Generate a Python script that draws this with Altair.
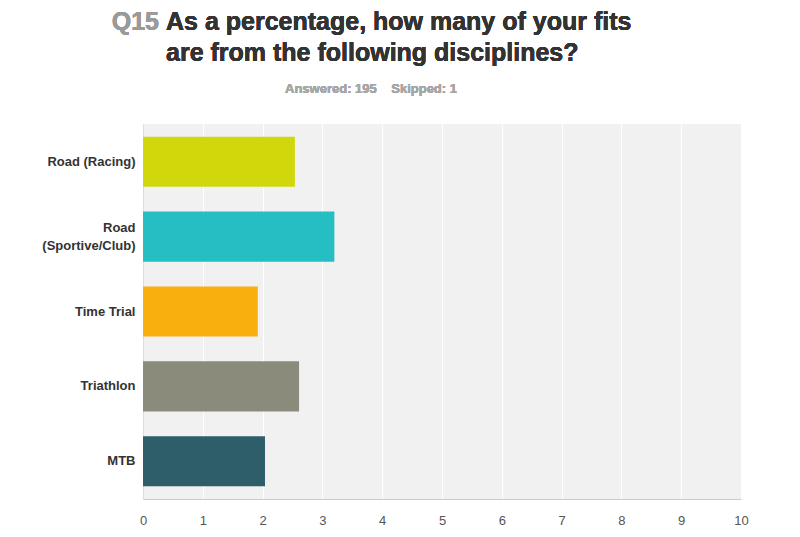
import altair as alt
import pandas as pd

categories = ["Road (Racing)", "Road (Sportive/Club)", "Time Trial", "Triathlon", "MTB"]
values = [2.54, 3.20, 1.92, 2.61, 2.04]
colors = ["#d0d80c", "#25bec3", "#f7b00e", "#8a8b7b", "#2d5e6a"]
x_ticks = list(range(0, 11))

df = pd.DataFrame({"discipline": categories, "value": values})

FONT = "Liberation Sans"

bars = alt.Chart(df).mark_bar().encode(
    y=alt.Y("discipline:N", sort=categories,
            scale=alt.Scale(paddingInner=0.33, paddingOuter=0.17),
            axis=alt.Axis(title=None, labelFont=FONT, labelFontSize=13, labelFontWeight="bold",
                          labelColor="#333333", labelPadding=8, ticks=False, domain=True,
                          domainColor="#dddddd", grid=False,
                          labelExpr="datum.value == 'Road (Sportive/Club)' ? ['Road', '(Sportive/Club)'] : datum.value",
                          labelOffset={"condition": {"test": "datum.value == 'Road (Sportive/Club)'", "value": -9},
                                       "value": 0},
                          labelLineHeight=18)),
    x=alt.X("value:Q", scale=alt.Scale(domain=[0, 10], nice=False),
            axis=alt.Axis(title=None, values=x_ticks, labelFont=FONT, labelFontSize=13,
                          labelColor="#555555", labelPadding=15, ticks=False, domainColor="#cccccc",
                          gridColor="#ffffff", gridWidth=1, labelFlush=False)),
    color=alt.Color("discipline:N", scale=alt.Scale(domain=categories, range=colors), legend=None),
)

TS = 25
q = alt.Chart(df).mark_text(text="Q15", font=FONT, fontSize=TS, fontWeight="bold", color="#9a9a9a",
                           align="right", baseline="alphabetic").encode(
    x=alt.value(16), y=alt.value(-94))
line1 = alt.Chart(df).mark_text(text="As a percentage, how many of your fits", font=FONT, fontSize=TS,
                               fontWeight="bold", color="#333333", align="left", baseline="alphabetic").encode(
    x=alt.value(23), y=alt.value(-94))
line2 = alt.Chart(df).mark_text(text="are from the following disciplines?", font=FONT, fontSize=TS,
                               fontWeight="bold", color="#333333", align="left", baseline="alphabetic").encode(
    x=alt.value(23), y=alt.value(-63))
sub = alt.Chart(df).mark_text(text="Answered: 195\u00a0\u00a0\u00a0\u00a0Skipped: 1", font=FONT, fontSize=13,
                             fontWeight="bold", color="#a6a6a6", align="center", baseline="alphabetic").encode(
    x=alt.value(228), y=alt.value(-31))

chart = alt.layer(bars, q, line1, line2, sub).properties(
    width=598, height=375,
    autosize=alt.AutoSizeParams(type="none"),
    padding={"left": 143, "top": 124, "right": 59, "bottom": 38},
    background="#ffffff",
).configure_view(fill="#f1f1f1", stroke=None)

chart.save("out.html", embed_options={"renderer": "svg", "actions": False})
